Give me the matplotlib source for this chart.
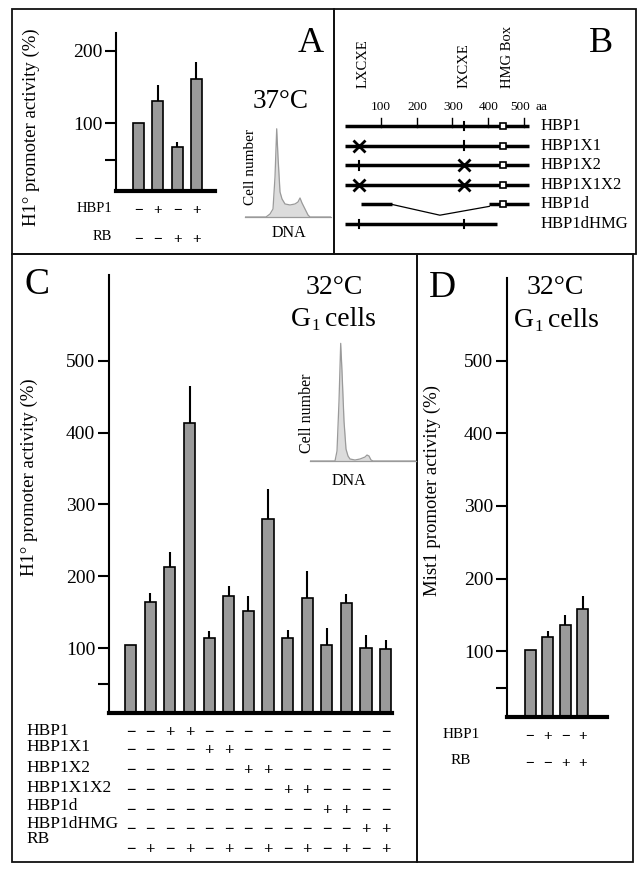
import numpy as np
import matplotlib
matplotlib.use("Agg")
from matplotlib import pyplot as plt
from matplotlib.patches import Rectangle
from matplotlib.transforms import blended_transform_factory

plt.rcParams['font.family'] = ['Liberation Serif', 'DejaVu Serif']

W, H = 643, 872

# panel A: 37 C, H1 promoter
a_mean = [100, 131, 68, 161]
a_err = [0, 22, 7, 23]
a_hbp1 = ['-', '+', '-', '+']
a_rb = ['-', '-', '+', '+']

# panel C: 32 C G1 cells, H1 promoter
c_mean = [105, 165, 213, 413, 114, 172, 152, 280, 114, 170, 105, 163, 101, 99]
c_err = [0, 12, 21, 52, 10, 15, 21, 42, 11, 37, 23, 12, 17, 12]
c_rows = ['HBP1', 'HBP1X1', 'HBP1X2', 'HBP1X1X2', 'HBP1d', 'HBP1dHMG', 'RB']
c_signs = [
    '--++----------',
    '----++--------',
    '------++------',
    '--------++----',
    '----------++--',
    '------------++',
    '-+-+-+-+-+-+-+',
]

# panel D: Mist1 promoter
d_mean = [102, 119, 136, 158]
d_err = [0, 9, 14, 18]
d_hbp1 = ['-', '+', '-', '+']
d_rb = ['-', '-', '+', '+']

# flow cytometry insets (DNA channel, cell count)
dna_37_ch = [0, 21, 25, 28, 30, 31.7, 33, 35, 37, 40, 45, 50, 53, 55, 57, 60, 63, 65, 86]
dna_37_n = [0, 0, 3, 8, 40, 88, 60, 25, 18, 13, 12, 13, 15, 19, 14, 8, 2, 0, 0]
dna_32_ch = [0, 25, 27, 29, 30.7, 32, 34, 36, 38, 40, 45, 50, 55, 57, 59, 61, 63, 107]
dna_32_n = [0, 0, 10, 60, 118, 90, 40, 12, 5, 2, 1, 2, 4, 6, 5, 1, 0, 0]

# panel B: constructs
constructs = ['HBP1', 'HBP1X1', 'HBP1X2', 'HBP1X1X2', 'HBP1d', 'HBP1dHMG']
lxcxe, ixcxe, hmg_box = 40, 331, 441
segments = [[(0, 514)], [(0, 514)], [(0, 514)], [(0, 514)],
            [(44, 131), (403, 514)], [(0, 424)]]
lx_state = ['none', 'x', 'tick', 'x', 'none', 'tick']
ix_state = ['tick', 'tick', 'x', 'x', 'none', 'tick']
has_hmg = [True, True, True, True, True, False]
scale_aa = [100, 200, 300, 400, 500]
scale_lab_at = [100, 201, 303, 402, 489]
motif_labels = ['LXCXE', 'IXCXE', 'HMG Box']
motif_lab_at = [50, 331, 455]

fig = plt.figure(figsize=(W / 100, H / 100), dpi=100)
fig.patch.set_facecolor('white')


def px_axes(x0, y0, x1, y1):
    return fig.add_axes([x0 / W, 1 - y1 / H, (x1 - x0) / W, (y1 - y0) / H])


def ftext(x, y, s, **kw):
    fig.text(x / W, 1 - y / H, s, **kw)


def box(x0, y0, x1, y1):
    fig.patches.append(Rectangle((x0 / W, 1 - y1 / H), (x1 - x0) / W, (y1 - y0) / H,
                                 transform=fig.transFigure, fill=False, lw=1.3,
                                 edgecolor='#111111'))


def g1_cells(xc, y, size=20):
    # "G" with a small subscript 1, then "cells"
    x0 = xc - 43
    ftext(x0, y, 'G', ha='left', va='center', fontsize=size)
    ftext(x0 + 20.5, y + 7, '1', ha='left', va='center', fontsize=size * 0.6)
    ftext(x0 + 34, y, 'cells', ha='left', va='center', fontsize=size)


box(12, 9, 334, 254)
box(334, 9, 636, 254)
box(12, 254, 417, 862)
box(417, 254, 633, 862)


def bar_axes(ax, mean, err, xlim, ylim, ticks, labels, width=0.57):
    pos = np.arange(len(mean))
    ax.bar(pos, mean, width=width, color='#9a9a9a', edgecolor='black', lw=1.2, zorder=2)
    top = np.array(mean) + np.array(err)
    for p, m, t in zip(pos, mean, top):
        if t > m:
            ax.vlines(p, m, t, color='black', lw=1.5, zorder=1)
    ax.set_xlim(*xlim)
    ax.set_ylim(*ylim)
    for s in ['top', 'right']:
        ax.spines[s].set_visible(False)
    ax.spines['left'].set_linewidth(1.5)
    ax.spines['bottom'].set_linewidth(3)
    ax.set_xticks([])
    ax.set_yticks(ticks)
    ax.set_yticklabels(labels, fontsize=14)
    ax.tick_params(axis='y', length=8, width=1.5, pad=2)
    ax.patch.set_alpha(0)
    return pos


def sign_row(ax, pos, signs, ypx, size):
    tr = blended_transform_factory(ax.transData, fig.transFigure)
    for p, s in zip(pos, signs):
        ax.text(p, 1 - ypx / H, '−' if s == '-' else '+', transform=tr,
                ha='center', va='center_baseline', fontsize=size, fontweight='bold')


def histo(x0, y0, x1, y1, ch, n):
    ax = px_axes(x0, y0, x1, y1)
    ax.fill_between(ch, n, color='#dcdcdc', lw=0)
    ax.plot(ch, n, color='#9a9a9a', lw=0.9)
    ax.set_xlim(0, ch[-1])
    ax.set_ylim(0, max(n) * 1.02)
    ax.axis('off')


# ---- A ----
axA = px_axes(116, 33, 215, 191)
posA = bar_axes(axA, a_mean, a_err, (-1.17, 3.96), (7, 224.5), [50, 100, 200], ['', '100', '200'])
axA.set_ylabel('H1° promoter activity (%)', fontsize=13.5)
axA.yaxis.set_label_coords((40 - 116) / 99, (191 - 127) / 158)
ftext(112, 208, 'HBP1', ha='right', va='center', fontsize=10.5)
ftext(112, 237, 'RB', ha='right', va='center', fontsize=10.5)
sign_row(axA, posA, a_hbp1, 209, 11)
sign_row(axA, posA, a_rb, 238, 11)
ftext(311, 44, 'A', ha='center', va='center', fontsize=26)
ftext(281, 101, '37°C', ha='center', va='center', fontsize=19.5)
histo(245, 127, 331, 217, dna_37_ch, dna_37_n)
fig.add_artist(plt.Line2D([245 / W, 331 / W], [1 - 217 / H] * 2, color='#9a9a9a', lw=0.9))
ftext(251, 167, 'Cell number', rotation=90, ha='center', va='center', fontsize=11)
ftext(289, 233, 'DNA', ha='center', va='center', fontsize=11.5)

# ---- B ----
axB = px_axes(334, 9, 636, 254)
axB.set_xlim(-30.7, 812.8)
axB.set_ylim(6.53, -5.97)
axB.axis('off')
for i, name in enumerate(constructs):
    for a, b in segments[i]:
        axB.plot([a, b], [i, i], color='black', lw=2.5, solid_capstyle='butt', zorder=2)
    for pos_aa, state in [(lxcxe, lx_state[i]), (ixcxe, ix_state[i])]:
        if state == 'tick':
            axB.plot([pos_aa, pos_aa], [i - 0.22, i + 0.22], color='black', lw=1.5, zorder=3)
        elif state == 'x':
            axB.plot(pos_aa, i, marker='x', ms=8, mew=2, color='black', zorder=3)
    if has_hmg[i]:
        axB.plot(hmg_box, i, marker='s', ms=5, mfc='white', mec='black', mew=1.2, zorder=4)
    axB.text(545, i, name, ha='left', va='center', fontsize=12)
# deletion connector in HBP1d
axB.plot([131, 265, 403], [4, 4.55, 4.1], color='black', lw=0.9, zorder=1)
# scale marks on full-length HBP1
for s, at in zip(scale_aa, scale_lab_at):
    axB.plot([s, s], [-0.4, 0.05], color='black', lw=1, zorder=3)
    axB.text(at, -0.95, str(s), ha='center', va='center', fontsize=9.5)
axB.text(531, -0.95, 'aa', ha='left', va='center', fontsize=9.5)
for at, lab in zip(motif_lab_at, motif_labels):
    axB.text(at, -1.95, lab, rotation=90, ha='center', va='bottom', fontsize=10.5)
ftext(601, 44, 'B', ha='center', va='center', fontsize=26)

# ---- C ----
axC = px_axes(109, 275, 392, 713)
posC = bar_axes(axC, c_mean, c_err, (-1.107, 13.33), (10, 619),
                [50, 100, 200, 300, 400, 500], ['', '100', '200', '300', '400', '500'])
axC.set_ylabel('H1° promoter activity (%)', fontsize=13.5)
axC.yaxis.set_label_coords((38 - 109) / 283, (713 - 477) / 438)
label_y = [731, 747, 768, 788, 806, 824, 839]
sign_y = [731, 749, 769, 789, 809, 828, 848]
for name, ly, sy, signs in zip(c_rows, label_y, sign_y, c_signs):
    ftext(26, ly, name, ha='left', va='center', fontsize=12.5)
    sign_row(axC, posC, list(signs), sy, 12)
ftext(37, 285, 'C', ha='center', va='center', fontsize=27)
ftext(334, 288, '32°C', ha='center', va='center', fontsize=20)
g1_cells(334, 319)
histo(310, 341, 417, 461, dna_32_ch, dna_32_n)
fig.add_artist(plt.Line2D([310 / W, 416 / W], [1 - 461 / H] * 2, color='#9a9a9a', lw=0.9))
ftext(307, 413, 'Cell number', rotation=90, ha='center', va='center', fontsize=11.5)
ftext(349, 481, 'DNA', ha='center', va='center', fontsize=11.5)

# ---- D ----
axD = px_axes(507, 278, 607, 717)
posD = bar_axes(axD, d_mean, d_err, (-1.31, 4.375), (9.6, 613.5),
                [50, 100, 200, 300, 400, 500], ['', '100', '200', '300', '400', '500'],
                width=0.625)
axD.set_ylabel('Mist1 promoter activity (%)', fontsize=13.5)
axD.yaxis.set_label_coords((441 - 507) / 100, (717 - 490) / 439)
ftext(461, 734, 'HBP1', ha='center', va='center', fontsize=11)
ftext(461, 761, 'RB', ha='center', va='center', fontsize=11)
sign_row(axD, posD, d_hbp1, 735, 11)
sign_row(axD, posD, d_rb, 762, 11)
ftext(442, 288, 'D', ha='center', va='center', fontsize=27)
ftext(555, 288, '32°C', ha='center', va='center', fontsize=20)
g1_cells(557, 320)

fig.savefig('out.png', dpi=100)
